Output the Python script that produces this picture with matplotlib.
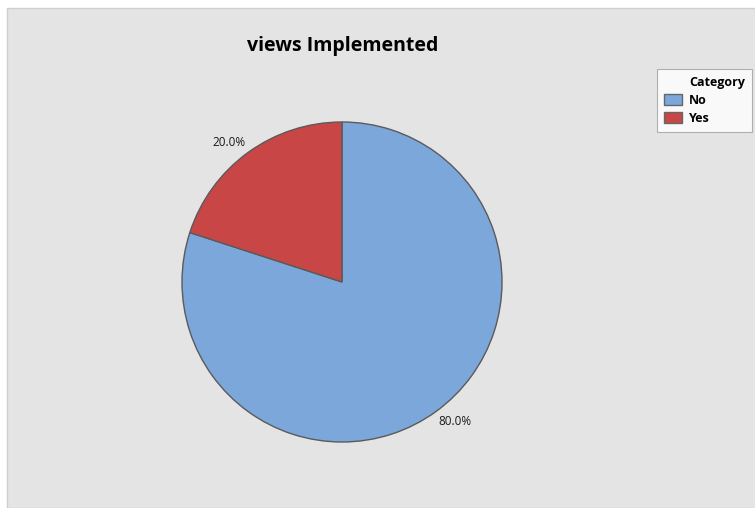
import numpy as np
import matplotlib.pyplot as plt
from matplotlib.patches import Rectangle, Patch

categories = ['No', 'Yes']
shares = [80.0, 20.0]
colors = ['#7ba7da', '#c84646']
title = 'views Implemented'

plt.rcParams['font.family'] = ['Open Sans', 'DejaVu Sans']

fig = plt.figure(figsize=(7.55, 5.08), dpi=100, facecolor='white')

# grey panel behind everything
fig.patches.append(Rectangle((7 / 755, 0), 1, 1 - 8 / 508, transform=fig.transFigure,
                             facecolor='#e4e4e4', edgecolor='#cfcfcf', lw=1.0, zorder=-5))

fig.text(343 / 755, 1 - 46 / 508, title, ha='center', va='center',
         fontsize=14, fontweight='bold', color='black')

ax = fig.add_axes([(342 - 160) / 755, (508 - 442) / 508, 320 / 755, 320 / 508])
wedges, texts, autotexts = ax.pie(
    shares, colors=colors, startangle=90, counterclock=False,
    autopct='%1.1f%%', pctdistance=1.14,
    wedgeprops=dict(edgecolor='#5a5a5a', linewidth=1.0),
    textprops=dict(fontsize=8.5, color='#1a1a1a'))

# percentage labels sit a little counter-clockwise of each wedge's middle
for w, t in zip(wedges, autotexts):
    ang = np.deg2rad((w.theta1 + w.theta2) / 2 + 3)
    t.set_position((1.12 * np.cos(ang), 1.12 * np.sin(ang)))

ax.set_xlim(-1, 1)
ax.set_ylim(-1, 1)
ax.set_aspect('equal')
ax.set_frame_on(False)

# legend heading as a blank entry so it lines up with the category names
handles = [Patch(facecolor='none', edgecolor='none', label='Category')]
handles += [Patch(facecolor=c, edgecolor='#666666', label=l) for c, l in zip(colors, categories)]
leg = fig.legend(handles=handles, loc='upper left',
                 bbox_to_anchor=(657 / 755, 1 - 69 / 508), frameon=True, fancybox=False,
                 edgecolor='#a0a0a0', facecolor='white',
                 prop=dict(weight='bold', size=9),
                 handlelength=1.45, handleheight=1.0, handletextpad=0.55,
                 borderpad=0.55, labelspacing=0.4, borderaxespad=0)
leg.get_frame().set_linewidth(0.8)

fig.savefig('out.png', dpi=100, facecolor='white')
